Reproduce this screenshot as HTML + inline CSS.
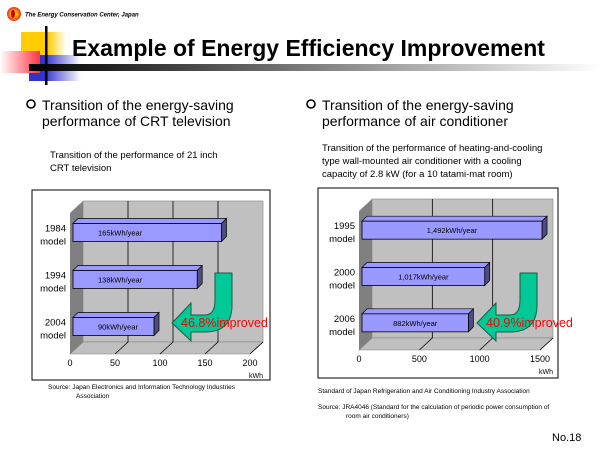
<!DOCTYPE html>
<html><head><meta charset="utf-8">
<style>
body{margin:0;background:#fff;}
svg{display:block;font-family:"Liberation Sans",sans-serif;}
</style></head>
<body>
<svg width="600" height="450" viewBox="0 0 600 450" xmlns="http://www.w3.org/2000/svg">
<defs>
<linearGradient id="hbar" x1="0" x2="1"><stop offset="0" stop-color="#000"/><stop offset="1" stop-color="#fff"/></linearGradient>
<linearGradient id="pink" x1="1" x2="0"><stop offset="0" stop-color="#ff3344"/><stop offset="1" stop-color="#fff"/></linearGradient>
<linearGradient id="blue" x1="0" x2="1"><stop offset="0.3" stop-color="#3333cc"/><stop offset="1" stop-color="#fff"/></linearGradient>
<linearGradient id="yel" x1="0" x2="1"><stop offset="0.6" stop-color="#ffcc00"/><stop offset="1" stop-color="#fff"/></linearGradient>
<radialGradient id="logo"><stop offset="0.3" stop-color="#ffcc00"/><stop offset="1" stop-color="#e8301c"/></radialGradient>
</defs>
<g>
<circle cx="14" cy="14" r="7" fill="url(#logo)"/>
<ellipse cx="13" cy="14" rx="2" ry="4" fill="#c00"/>
<text x="25" y="16.5" font-size="6" font-weight="bold" font-style="italic">The Energy Conservation Center, Japan</text>
</g>
<g>
<rect x="21" y="32" width="45" height="29" fill="url(#yel)"/>
<rect x="29" y="55" width="52" height="26" fill="url(#blue)"/>
<rect x="0" y="51" width="40" height="22" fill="url(#pink)"/>
<rect x="29" y="64" width="571" height="7" fill="url(#hbar)"/>
<rect x="45" y="26" width="2.5" height="59" fill="#000"/>
</g>
<text x="72" y="56" font-size="23" font-weight="bold">Example of Energy Efficiency Improvement</text>

<g>
<circle cx="31" cy="104" r="4" fill="none" stroke="#000" stroke-width="1.6"/>
<text x="42" y="110" font-size="14">Transition of the energy-saving</text>
<text x="42" y="126" font-size="14">performance of CRT television</text>
<text x="50" y="158" font-size="9.5">Transition of the performance of 21 inch</text>
<text x="50" y="171" font-size="9.5">CRT television</text>
</g>
<g>
<circle cx="311" cy="104" r="4" fill="none" stroke="#000" stroke-width="1.6"/>
<text x="322" y="110" font-size="14">Transition of the energy-saving</text>
<text x="322" y="126" font-size="14">performance of air conditioner</text>
<text x="322" y="151" font-size="9.5">Transition of the performance of heating-and-cooling</text>
<text x="322" y="164" font-size="9.5">type wall-mounted air conditioner with a cooling</text>
<text x="322" y="177" font-size="9.5">capacity of 2.8 kW (for a 10 tatami-mat room)</text>
</g>

<g id="chartL"></g>
<g id="chartR"></g>

<g font-size="6.5">
<text x="48" y="389">Source:   Japan Electronics and Information Technology Industries</text>
<text x="76" y="398">Association</text>
<text x="318" y="393">Standard of Japan Refrigeration and Air Conditioning Industry Association</text>
<text x="318" y="409">Source:   JRA4046 (Standard for the calculation of periodic power consumption of</text>
<text x="346" y="418">room air conditioners)</text>
</g>
<text x="552" y="441" font-size="11">No.18</text>
</svg>
<script>
const crtCategories=[["1984","model"],["1994","model"],["2004","model"]];
const crtValues=[165,138,90];
const crtLabels=["165kWh/year","138kWh/year","90kWh/year"];
const crtTicks=[0,50,100,150,200];
const crtImproved="46.8%improved";
const acCategories=[["1995","model"],["2000","model"],["2006","model"]];
const acValues=[1492,1017,882];
const acLabels=["1,492kWh/year","1,017kWh/year","882kWh/year"];
const acTicks=[0,500,1000,1500];
const acImproved="40.9%improved";

const NS="http://www.w3.org/2000/svg";
function mk(p,tag,attrs,txt){const e=document.createElementNS(NS,tag);for(const k in attrs)e.setAttribute(k,attrs[k]);if(txt!==undefined)e.textContent=txt;p.appendChild(e);return e;}

function draw(g,o,cats,vals,labels,ticks,imp){
  const D=13,DY=12;
  const x=v=>o.x0+(v/o.max)*o.w;
  const box=mk(g,'rect',{x:o.bx,y:o.by,width:o.bw,height:o.bh,fill:'#fff',stroke:'#000','stroke-width':1});
  
  const top=o.top,bot=o.bot;
  const wall=mk(g,'rect',{x:x(0)+D,y:top,width:o.w,height:bot-top,fill:'#c0c0c0',stroke:'#808080','stroke-width':0.6});
  
  const lw=mk(g,'polygon',{points:`${x(0)},${top+DY} ${x(0)+D},${top} ${x(0)+D},${bot} ${x(0)},${bot+DY}`,fill:'#808080'});
  
  const fl=mk(g,'polygon',{points:`${x(0)},${bot+DY} ${x(0)+D},${bot} ${x(o.max)+D},${bot} ${x(o.max)},${bot+DY}`,fill:'#c0c0c0',stroke:'#808080','stroke-width':0.6});
  
  ticks.forEach((t,i)=>{
    if(i>0&&i<ticks.length-1){const gl=mk(g,'line',{x1:x(t)+D,y1:top,x2:x(t)+D,y2:bot,stroke:'#000','stroke-width':0.8});
      }
    if(i>0){const fd=mk(g,'line',{x1:x(t),y1:bot+DY,x2:x(t)+D,y2:bot,stroke:'#000','stroke-width':0.8});
      }
    const tl=mk(g,'text',{x:x(t),y:bot+DY+12,'font-size':9,'text-anchor':'middle'},String(t));
    
  });
  const un=mk(g,'text',{x:x(o.max)+6,y:bot+DY+24,'font-size':7,'text-anchor':'middle'},'kWh');
  
  const n=vals.length,band=(bot+DY-top-DY)/n,bh=18,bd=5;
  vals.forEach((v,i)=>{
    const yc=top+DY+band*(i+0.5)-4, y0=yc-bh/2, x0=o.x0+3, x1=x0+(v/o.max)*o.w;
    const b=mk(g,'g',{});
    mk(b,'polygon',{points:`${x0},${y0} ${x0+bd},${y0-bd} ${x1+bd},${y0-bd} ${x1},${y0}`,fill:'#9999ff',stroke:'#000','stroke-width':0.7});
    mk(b,'polygon',{points:`${x1},${y0} ${x1+bd},${y0-bd} ${x1+bd},${y0+bh-bd} ${x1},${y0+bh}`,fill:'#4d4d80',stroke:'#000','stroke-width':0.7});
    mk(b,'rect',{x:x0,y:y0,width:x1-x0,height:bh,fill:'#9999ff',stroke:'#000','stroke-width':0.8});
    const vl=mk(g,'text',{x:x0+(o.centerLbl?(x1-x0)/2:25),y:yc+3,'font-size':7.5,'text-anchor':o.centerLbl?'middle':'start'},labels[i]);
    
    const c1=mk(g,'text',{x:o.x0-4,y:yc-1,'font-size':9.5,'text-anchor':'end'},cats[i][0]);
    
    const c2=mk(g,'text',{x:o.x0-4,y:yc+12,'font-size':9.5,'text-anchor':'end'},cats[i][1]);
    
  });
  const ax=o.arrowX;
  const ar=mk(g,'path',{d:`M${ax+43},273 L${ax+60},273 L${ax+60},305 Q${ax+60},332 ${ax+33},332 L${ax+19},332 L${ax+19},341 L${ax},323 L${ax+19},303 L${ax+19},315 L${ax+33},315 Q${ax+43},315 ${ax+43},300 Z`,fill:'#00c896',stroke:'#1a5a44','stroke-width':1});
  
  const it=mk(g,'text',{x:ax+9,y:327,'font-size':12.5,fill:'#ff0000'},imp);
  
}
draw(document.getElementById('chartL'),{bx:32,by:190,bw:238,bh:190,x0:70,w:180,max:200,top:201,bot:342,arrowX:172},crtCategories,crtValues,crtLabels,crtTicks,crtImproved);
draw(document.getElementById('chartR'),{bx:318,by:188,bw:240,bh:190,x0:359,w:181,max:1500,top:199,bot:338,arrowX:477,centerLbl:true},acCategories,acValues,acLabels,acTicks,acImproved);
</script>
</body></html>
